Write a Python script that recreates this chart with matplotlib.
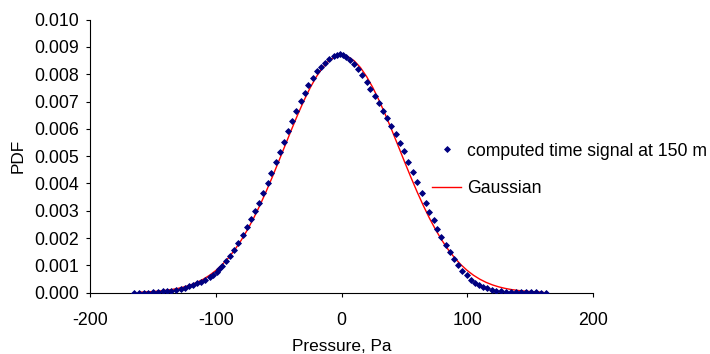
#!/usr/bin/env python3
"""PDF of the computed pressure signal against a Gaussian fit."""

import matplotlib

matplotlib.use("Agg")
import matplotlib.pyplot as plt


# computed time signal at 150 m
COMPUTED_X = [
    -164.9, -160.9, -156.9, -153.7, -150.2, -146.2, -142.2, -138.7, -135.5, -131.5,
    -128.0, -124.8, -121.6, -118.1, -114.7, -111.5, -108.3, -104.7, -102.1, -99.4,
    -97.2, -94.9, -91.6, -88.7, -85.2, -82.0, -78.6, -75.4, -72.2, -68.6,
    -65.4, -62.3, -58.5, -55.8, -51.8, -48.6, -45.9, -42.4, -39.3, -36.1,
    -32.3, -29.4, -26.5, -22.7, -19.2, -16.0, -13.1, -9.9, -6.1, -3.7,
    -1.3, 1.1, 3.8, 6.7, 10.2, 13.4, 16.6, 20.4, 23.0, 26.5,
    29.7, 33.2, 36.4, 39.6, 43.1, 46.8, 49.7, 52.9, 56.5, 59.7,
    63.7, 66.9, 69.8, 73.3, 76.3, 79.3, 83.0, 86.1, 89.6, 92.7,
    96.0, 99.7, 102.9, 106.1, 109.6, 112.8, 115.8, 119.8, 123.2, 126.8,
    130.5, 134.5, 138.5, 142.5, 146.5, 150.5, 154.5, 158.5, 162.5,
]
COMPUTED_PDF = [
    0.00000, 0.00000, 0.00000, 0.00000, 0.00001, 0.00003, 0.00005, 0.00006, 0.00007, 0.00010,
    0.00014, 0.00019, 0.00024, 0.00028, 0.00034, 0.00039, 0.00046, 0.00056, 0.00065, 0.00076,
    0.00086, 0.00096, 0.00116, 0.00134, 0.00157, 0.00183, 0.00211, 0.00241, 0.00270, 0.00298,
    0.00328, 0.00364, 0.00403, 0.00440, 0.00477, 0.00514, 0.00551, 0.00591, 0.00629, 0.00667,
    0.00702, 0.00733, 0.00761, 0.00788, 0.00812, 0.00828, 0.00842, 0.00855, 0.00866, 0.00872,
    0.00873, 0.00870, 0.00864, 0.00853, 0.00837, 0.00818, 0.00797, 0.00773, 0.00747, 0.00720,
    0.00694, 0.00667, 0.00641, 0.00611, 0.00581, 0.00550, 0.00520, 0.00479, 0.00442, 0.00404,
    0.00364, 0.00328, 0.00296, 0.00265, 0.00233, 0.00203, 0.00176, 0.00149, 0.00122, 0.00101,
    0.00081, 0.00063, 0.00047, 0.00035, 0.00028, 0.00022, 0.00016, 0.00011, 0.00007, 0.00005,
    0.00004, 0.00003, 0.00002, 0.00002, 0.00001, 0.00001, 0.00001, 0.00000, 0.00000,
]

# Gaussian reference curve
GAUSS_X = [
    -160, -155, -150, -145, -140, -135, -130, -125, -120, -115, -110,
    -105, -100, -95, -90, -85, -80, -75, -70, -65, -60, -55,
    -50, -45, -40, -35, -30, -25, -20, -15, -10, -5, 0,
    5, 10, 15, 20, 25, 30, 35, 40, 45, 50, 55,
    60, 65, 70, 75, 80, 85, 90, 95, 100, 105, 110,
    115, 120, 125, 130, 135, 140, 145, 150, 155, 160,
]
GAUSS_PDF = [
    0.0000196, 0.0000289, 0.0000417, 0.0000592, 0.0000830, 0.000115, 0.000158, 0.000213,
    0.000285, 0.000377, 0.000493, 0.000636, 0.000811, 0.001022, 0.001272, 0.001566,
    0.001905, 0.002290, 0.002719, 0.003192, 0.003702, 0.004243, 0.004807, 0.005380,
    0.005951, 0.006505, 0.007027, 0.007501, 0.007912, 0.008248, 0.008496, 0.008649,
    0.008700,
    0.008649, 0.008496, 0.008248, 0.007912, 0.007501, 0.007027, 0.006505, 0.005951,
    0.005380, 0.004807, 0.004243, 0.003702, 0.003192, 0.002719, 0.002290, 0.001905,
    0.001566, 0.001272, 0.001022, 0.000811, 0.000636, 0.000493, 0.000377, 0.000285,
    0.000213, 0.000158, 0.000115, 0.0000830, 0.0000592, 0.0000417, 0.0000289, 0.0000196,
]

X_TICKS = [-200, -100, 0, 100, 200]
Y_TICKS = [0.000, 0.001, 0.002, 0.003, 0.004, 0.005, 0.006, 0.007, 0.008, 0.009, 0.010]


def main():
    plt.rcParams["font.family"] = ["Liberation Sans", "DejaVu Sans"]
    plt.rcParams["font.size"] = 12.4
    plt.rcParams["axes.unicode_minus"] = False

    fig = plt.figure(figsize=(7.1, 3.54), dpi=100)
    ax = fig.add_axes([0.1268, 0.1732, 0.7085, 0.7712])

    ax.plot(
        GAUSS_X, GAUSS_PDF, color="#ff0000", linewidth=1.0,
        label="Gaussian", zorder=2,
    )
    ax.plot(
        COMPUTED_X, COMPUTED_PDF, linestyle="none", marker="D", markersize=3.0,
        color="#000080", markeredgewidth=0.6,
        label="computed time signal at 150 m", zorder=3,
    )

    ax.set_xlim(-200, 200)
    ax.set_ylim(0, 0.010)
    ax.set_xticks(X_TICKS)
    ax.set_yticks(Y_TICKS)
    ax.set_yticklabels([f"{v:.3f}" for v in Y_TICKS])

    for side in ("top", "right"):
        ax.spines[side].set_visible(False)
    for side in ("left", "bottom"):
        ax.spines[side].set_linewidth(0.8)
        ax.spines[side].set_color("#000000")
    ax.tick_params(axis="both", direction="out", length=3, width=0.8,
                   colors="#000000", labelsize=12.8)
    ax.tick_params(axis="x", pad=11)
    ax.tick_params(axis="y", pad=5)

    ax.set_xlabel("Pressure, Pa", labelpad=7)
    ax.set_ylabel("PDF", labelpad=6)

    handles, labels = ax.get_legend_handles_labels()
    ax.legend(
        handles[::-1], labels[::-1],
        loc="upper left", bbox_to_anchor=(0.609, 0.597),
        bbox_transform=fig.transFigure, frameon=False, fontsize=12.7,
        borderpad=0, borderaxespad=0, handlelength=1.65,
        handletextpad=0.33, labelspacing=1.15, numpoints=1,
    )

    fig.savefig("out.png", dpi=100)
    plt.close(fig)


if __name__ == "__main__":
    main()
